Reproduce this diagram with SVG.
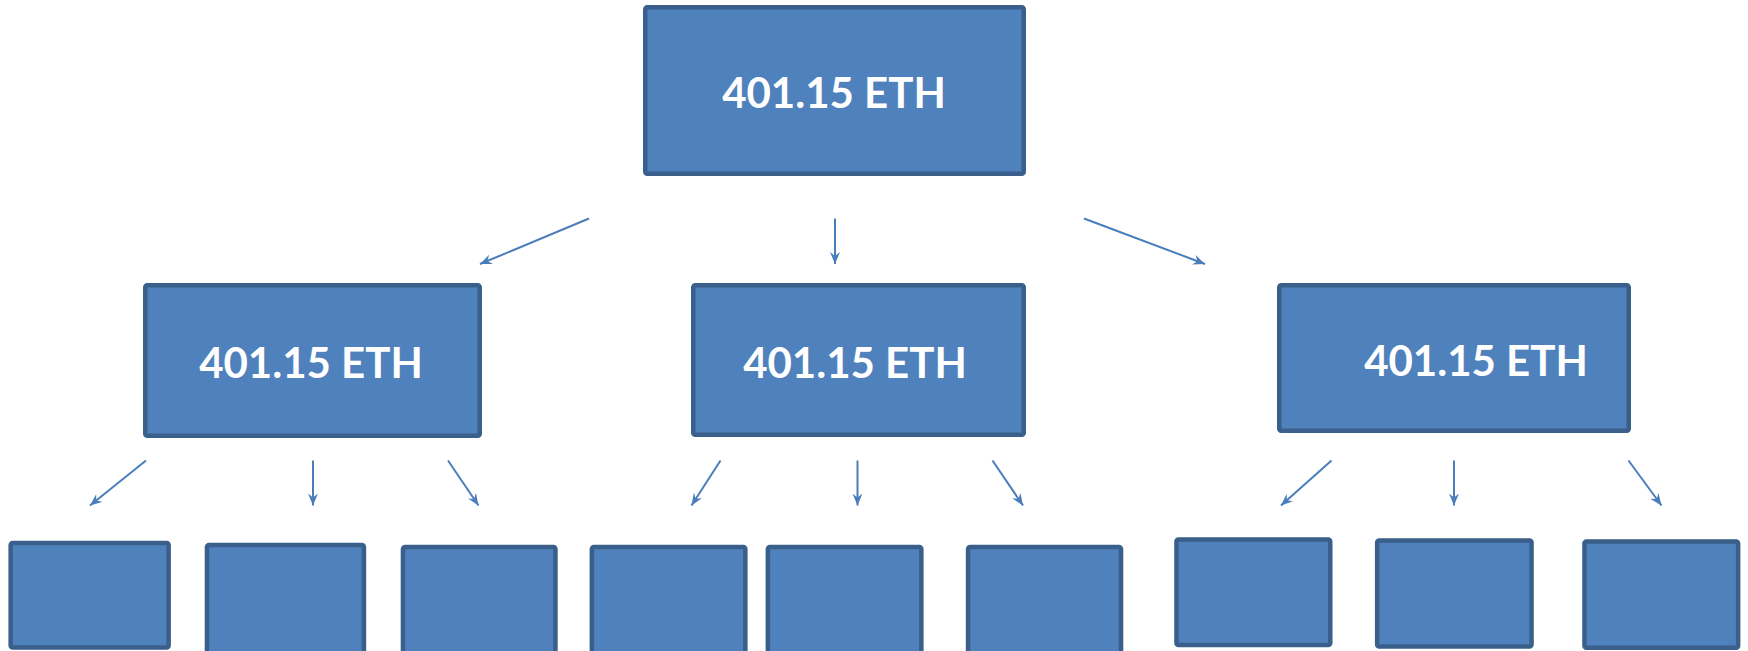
<svg xmlns="http://www.w3.org/2000/svg" width="1748" height="651" viewBox="0 0 1748 651">
<style>
.box{fill:#4F81BD;stroke:#3A5F8B;stroke-width:4.5;}
.lbl{font-family:Lato,"Open Sans","Liberation Sans",sans-serif;font-weight:700;font-size:42px;fill:#FFFFFF;text-anchor:middle;}
.con{stroke:#4A7EBB;stroke-width:2;fill:none;marker-end:url(#ah);}
</style>
<defs>
<marker id="ah" markerUnits="userSpaceOnUse" markerWidth="14" markerHeight="10" refX="12" refY="5" orient="auto">
<path d="M0,0 L12,5 L0,10 L4,5 z" fill="#4A7EBB"/>
</marker>
</defs>
<rect width="1748" height="651" fill="#FFFFFF"/>
<g id="root"><rect class="box" x="645.25" y="7.25" width="378.5" height="166.5" rx="2"/><text class="lbl" x="834" y="108">401.15 ETH</text></g>
<g id="mid1"><rect class="box" x="145.25" y="285.25" width="334.5" height="150.5" rx="2"/><text class="lbl" x="311" y="378">401.15 ETH</text></g>
<g id="mid2"><rect class="box" x="693.25" y="285.25" width="330.5" height="149.5" rx="2"/><text class="lbl" x="855" y="378">401.15 ETH</text></g>
<g id="mid3"><rect class="box" x="1279.25" y="285.25" width="349.5" height="145.5" rx="2"/><text class="lbl" x="1476" y="376">401.15 ETH</text></g>
<g id="leaf1"><rect class="box" x="10.65" y="543" width="158" height="104.5" rx="2"/></g>
<g id="leaf2"><rect class="box" x="206.95" y="545" width="157" height="110" rx="2"/></g>
<g id="leaf3"><rect class="box" x="402.95" y="547" width="152.5" height="110" rx="2"/></g>
<g id="leaf4"><rect class="box" x="591.85" y="547" width="153.5" height="110" rx="2"/></g>
<g id="leaf5"><rect class="box" x="767.85" y="547" width="153.5" height="110" rx="2"/></g>
<g id="leaf6"><rect class="box" x="968.05" y="547" width="153" height="110" rx="2"/></g>
<g id="leaf7"><rect class="box" x="1176.45" y="539.55" width="153.8" height="105.5" rx="2"/></g>
<g id="leaf8"><rect class="box" x="1377.15" y="540.55" width="154.4" height="105.9" rx="2"/></g>
<g id="leaf9"><rect class="box" x="1584.45" y="541.55" width="153.7" height="106.2" rx="2"/></g>
<g id="connectors">
<line class="con" x1="589" y1="218.5" x2="480" y2="264"/>
<line class="con" x1="835" y1="218.5" x2="835" y2="264"/>
<line class="con" x1="1084" y1="218.5" x2="1205" y2="264"/>
<line class="con" x1="146" y1="460.5" x2="90" y2="505.5"/>
<line class="con" x1="313" y1="460.5" x2="313" y2="505.5"/>
<line class="con" x1="448" y1="460.5" x2="478.5" y2="505.5"/>
<line class="con" x1="720.5" y1="460.5" x2="691.5" y2="505.5"/>
<line class="con" x1="857.5" y1="460.5" x2="857.5" y2="505.5"/>
<line class="con" x1="992.5" y1="460.5" x2="1023" y2="505.5"/>
<line class="con" x1="1331.5" y1="460.5" x2="1281" y2="505.5"/>
<line class="con" x1="1454" y1="460.5" x2="1454" y2="505.5"/>
<line class="con" x1="1628.5" y1="460.5" x2="1661.5" y2="505.5"/>
</g>
</svg>
